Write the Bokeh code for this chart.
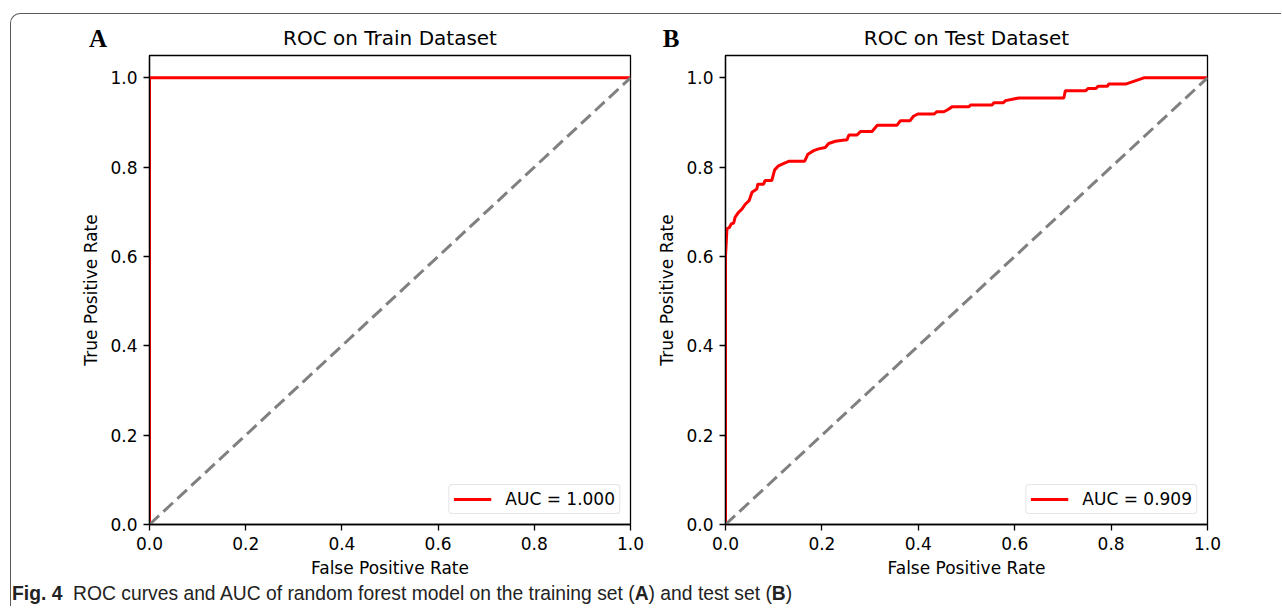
from bokeh.plotting import figure
from bokeh.models import (Legend, LegendItem, FixedTicker, PrintfTickFormatter,
                          Div, Range1d)
from bokeh.layouts import row, column
from bokeh.embed import file_html
from bokeh.resources import INLINE

# ---------------- data ----------------
train_fpr = [0.0, 0.0, 1.0]
train_tpr = [0.0, 1.0, 1.0]
train_auc = "AUC = 1.000"

test_fpr = [0.0, 0.0, 0.003, 0.008, 0.012, 0.017, 0.020, 0.027, 0.034, 0.041,
            0.049, 0.055, 0.065, 0.067, 0.079, 0.082, 0.096, 0.102, 0.110, 0.120,
            0.131, 0.164, 0.171, 0.183, 0.193, 0.207, 0.214, 0.228, 0.247, 0.252,
            0.256, 0.273, 0.280, 0.304, 0.315, 0.356, 0.363, 0.383, 0.390, 0.399,
            0.433, 0.438, 0.453, 0.460, 0.470, 0.505, 0.508, 0.553, 0.557, 0.576,
            0.581, 0.609, 0.702, 0.705, 0.747, 0.752, 0.768, 0.773, 0.792, 0.795,
            0.830, 0.868, 1.0]
test_tpr = [0.0, 0.600, 0.662, 0.665, 0.673, 0.675, 0.688, 0.699, 0.706, 0.717,
            0.725, 0.744, 0.751, 0.762, 0.762, 0.770, 0.770, 0.794, 0.803, 0.808,
            0.813, 0.813, 0.829, 0.837, 0.841, 0.844, 0.853, 0.858, 0.861, 0.861,
            0.872, 0.872, 0.880, 0.880, 0.894, 0.894, 0.904, 0.904, 0.914, 0.919,
            0.919, 0.924, 0.924, 0.928, 0.935, 0.935, 0.939, 0.939, 0.944, 0.944,
            0.949, 0.955, 0.955, 0.971, 0.971, 0.976, 0.976, 0.981, 0.981, 0.986,
            0.986, 1.0, 1.0]
test_auc = "AUC = 0.909"

chance_x = [0.0, 1.0]
chance_y = [0.0, 1.0]

ticks = [0.0, 0.2, 0.4, 0.6, 0.8, 1.0]
titles = ["ROC on Train Dataset", "ROC on Test Dataset"]
panel_letters = ["A", "B"]
x_label = "False Positive Rate"
y_label = "True Positive Rate"
caption_bold = "Fig. 4"
caption_text = ("ROC curves and AUC of random forest model on the training set "
                "(<b>A</b>) and test set (<b>B</b>)")

assert len(test_fpr) == len(test_tpr)

FONT = "DejaVu Sans"
FIG_H = 568


def make_panel(title, width, left, right, fpr, tpr, auc):
    p = figure(width=width, height=FIG_H, x_range=Range1d(0, 1), y_range=Range1d(0, 1.05),
               output_backend="svg", toolbar_location=None, title=title,
               min_border_left=left, min_border_right=right,
               min_border_top=41, min_border_bottom=FIG_H - 41 - 469)
    p.background_fill_color = "white"
    p.border_fill_color = "white"
    p.border_fill_alpha = 0.0
    p.outline_line_color = "black"
    p.outline_line_width = 1.3
    p.xgrid.visible = False
    p.ygrid.visible = False

    p.title.text_font = FONT
    p.title.text_font_size = "20px"
    p.title.text_font_style = "normal"
    p.title.text_color = "black"
    p.title.align = "center"
    p.title.standoff = 12

    for ax in (p.xaxis[0], p.yaxis[0]):
        ax.ticker = FixedTicker(ticks=ticks)
        ax.formatter = PrintfTickFormatter(format="%.1f")
        ax.major_label_text_font = FONT
        ax.major_label_text_font_size = "17px"
        ax.major_label_text_color = "black"
        ax.axis_label_text_font = FONT
        ax.axis_label_text_font_size = "17px"
        ax.axis_label_text_font_style = "normal"
        ax.axis_label_text_color = "black"
        ax.axis_line_color = "black"
        ax.axis_line_width = 1.3
        ax.major_tick_line_color = "black"
        ax.major_tick_line_width = 1.3
        ax.major_tick_out = 6
        ax.major_tick_in = 0
        ax.minor_tick_line_color = None
        ax.major_label_standoff = 6
    p.xaxis.axis_label = x_label
    p.yaxis.axis_label = y_label
    p.xaxis.axis_label_standoff = 5
    p.yaxis.axis_label_standoff = 6

    r = p.line(fpr, tpr, line_color="red", line_width=3)
    p.line(chance_x, chance_y, line_color="gray", line_width=3, line_dash="13 6")

    legend = Legend(items=[LegendItem(label=auc, renderers=[r])], location="bottom_right")
    legend.label_text_font = FONT
    legend.label_text_font_size = "17px"
    legend.label_text_color = "black"
    legend.border_line_color = "#cccccc"
    legend.border_line_width = 1
    legend.background_fill_alpha = 0.8
    legend.padding = 4
    legend.margin = 10
    legend.spacing = 0
    legend.glyph_width = 38
    legend.glyph_height = 20
    legend.label_height = 20
    legend.label_standoff = 14
    legend.label_text_baseline = "middle"
    if "border_radius" in Legend.properties():
        legend.border_radius = 4
    p.add_layout(legend)
    return p


p1 = make_panel(titles[0], 640, 138, 21, train_fpr, train_tpr, train_auc)
p2 = make_panel(titles[1], 630, 74, 74, test_fpr, test_tpr, test_auc)

# panel letters (A, B) as bold serif text overlaid at the top-left of each panel
letter_css = ("position:absolute; top:12px; width:40px; text-align:center; "
              "line-height:1; font-family:'Liberation Serif', serif; "
              "font-weight:bold; font-size:25px; color:black;")
letters_html = (f'<span style="{letter_css} left:67px;">{panel_letters[0]}</span>'
                f'<span style="{letter_css} left:640px;">{panel_letters[1]}</span>')
letters = Div(text=letters_html, width=1270, height=1, margin=(0, 0, -1, 0),
              styles={"position": "relative", "z-index": "10", "overflow": "visible"})

cap = Div(text=f"<b>{caption_bold}</b>&nbsp;&nbsp;{caption_text}", width=900, height=24,
          margin=(0, 0, 0, 0),
          styles={"font-family": "'Liberation Sans', sans-serif",
                  "font-size": "19.3px", "line-height": "24px", "color": "#222",
                  "padding-left": "1px", "white-space": "nowrap"})

layout = column(letters, row(p1, p2), cap, margin=(13, 0, 0, 10),
                styles={"border-top": "1px solid #5a5a5a",
                        "border-left": "1px solid #5a5a5a",
                        "border-top-left-radius": "10px",
                        "background-color": "white"})

open("out.html", "w").write(file_html(layout, INLINE))
